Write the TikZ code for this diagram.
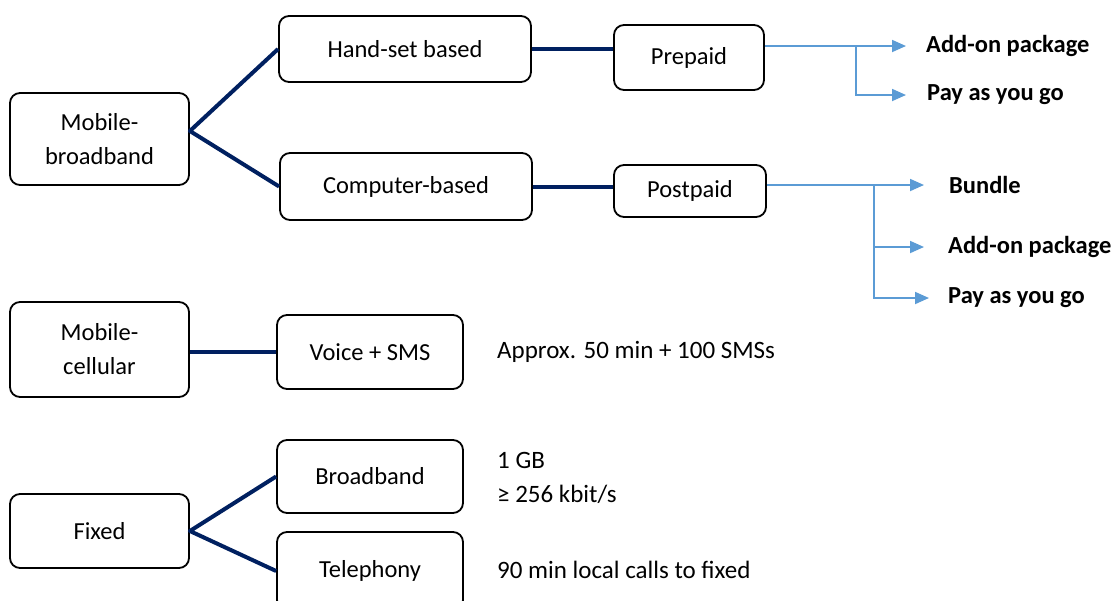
\documentclass[tikz,border=0pt]{standalone}
\usepackage{fontspec}
\setmainfont{Carlito}
\usetikzlibrary{arrows.meta}
\definecolor{linknavy}{HTML}{002060}
\definecolor{planblue}{HTML}{5B9BD5}

\begin{document}
\begin{tikzpicture}[x=1pt, y=-1pt,
		box/.style={draw, line width=1.8pt, rounded corners=10pt, inner sep=0pt, align=center, font=\fontsize{24.5}{34}\selectfont},
		plan/.style={anchor=west, inner sep=0pt, font=\fontsize{24.5}{28}\selectfont\bfseries},
		note/.style={anchor=west, inner sep=0pt, font=\fontsize{25}{30}\selectfont},
		link/.style={draw=linknavy, line width=4pt, line join=round},
		feed/.style={draw=planblue, line width=1.8pt, -{Triangle[length=14pt, width=12pt]}}]
	\useasboundingbox (0,0) rectangle (1113,600);

	% services
	\node[box, minimum width=179pt, minimum height=92pt] (mb) at (99.5,139) {Mobile-\\broadband};
	\node[box, minimum width=179pt, minimum height=95pt] (mc) at (99.5,349.5) {Mobile-\\cellular};
	\node[box, minimum width=179pt, minimum height=74pt] (fx) at (99.5,531) {Fixed};

	% second level
	\node[box, minimum width=252pt, minimum height=66pt] (hs) at (405,49) {Hand-set based};
	\node[box, minimum width=252pt, minimum height=67pt] (cb) at (406,186.5) {Computer-based};
	\node[box, minimum width=186pt, minimum height=74pt] (vs) at (370,352) {Voice + SMS};
	\node[box, minimum width=186pt, minimum height=73pt] (bb) at (370,476.5) {Broadband};
	\node[box, minimum width=186pt, minimum height=78pt] (tp) at (370,571) {Telephony};

	% payment
	\node[box, minimum width=150pt, minimum height=65pt] (pp) at (689,57.5) {Prepaid};
	\node[box, minimum width=152pt, minimum height=52pt] (pd) at (690,191) {Postpaid};

	% plans
	\node[plan] (pre-addon) at (926,46) {Add-on package};
	\node[plan] (pre-payg) at (927,95) {Pay as you go};
	\node[plan] (post-bundle) at (949,185) {Bundle};
	\node[plan] (post-addon) at (948,247) {Add-on package};
	\node[plan] (post-payg) at (948,298) {Pay as you go};

	% baskets
	\node[note] (vs-note) at (497,352) {Approx. 50 min + 100 SMSs};
	\node[note] (bb-data) at (497,460) {1 GB};
	\node[note] (bb-speed) at (497,494) {≥ 256 kbit/s};
	\node[note] (tp-note) at (497,570) {90 min local calls to fixed};

	\coordinate (mbjoint) at ([yshift=8pt]mb.east);
	\coordinate (ppfork) at (856,46);
	\coordinate (pdfork) at (874,185);

	\draw[link] (hs.west) -- (mbjoint) -- (cb.west);
	\draw[link] (bb.west) -- (fx.east) -- (tp.west);
	\path[link]
		(hs.east) edge (pp.west |- hs.east)
		(cb.east) edge (pd.west |- cb.east)
		(mc.east |- vs.west) edge (vs.west);

	\draw[feed] (pp.east |- pre-addon.west) -- ([xshift=-20pt]pre-addon.west);
	\draw[feed] (ppfork) |- ([xshift=-21pt]pre-payg.west);
	\draw[feed] (pd.east |- post-bundle.west) -- ([xshift=-25pt]post-bundle.west);
	\draw[feed] (pdfork) |- ([xshift=-24pt]post-addon.west);
	\draw[feed] (pdfork) |- ([xshift=-19pt]post-payg.west);
\end{tikzpicture}
\end{document}
